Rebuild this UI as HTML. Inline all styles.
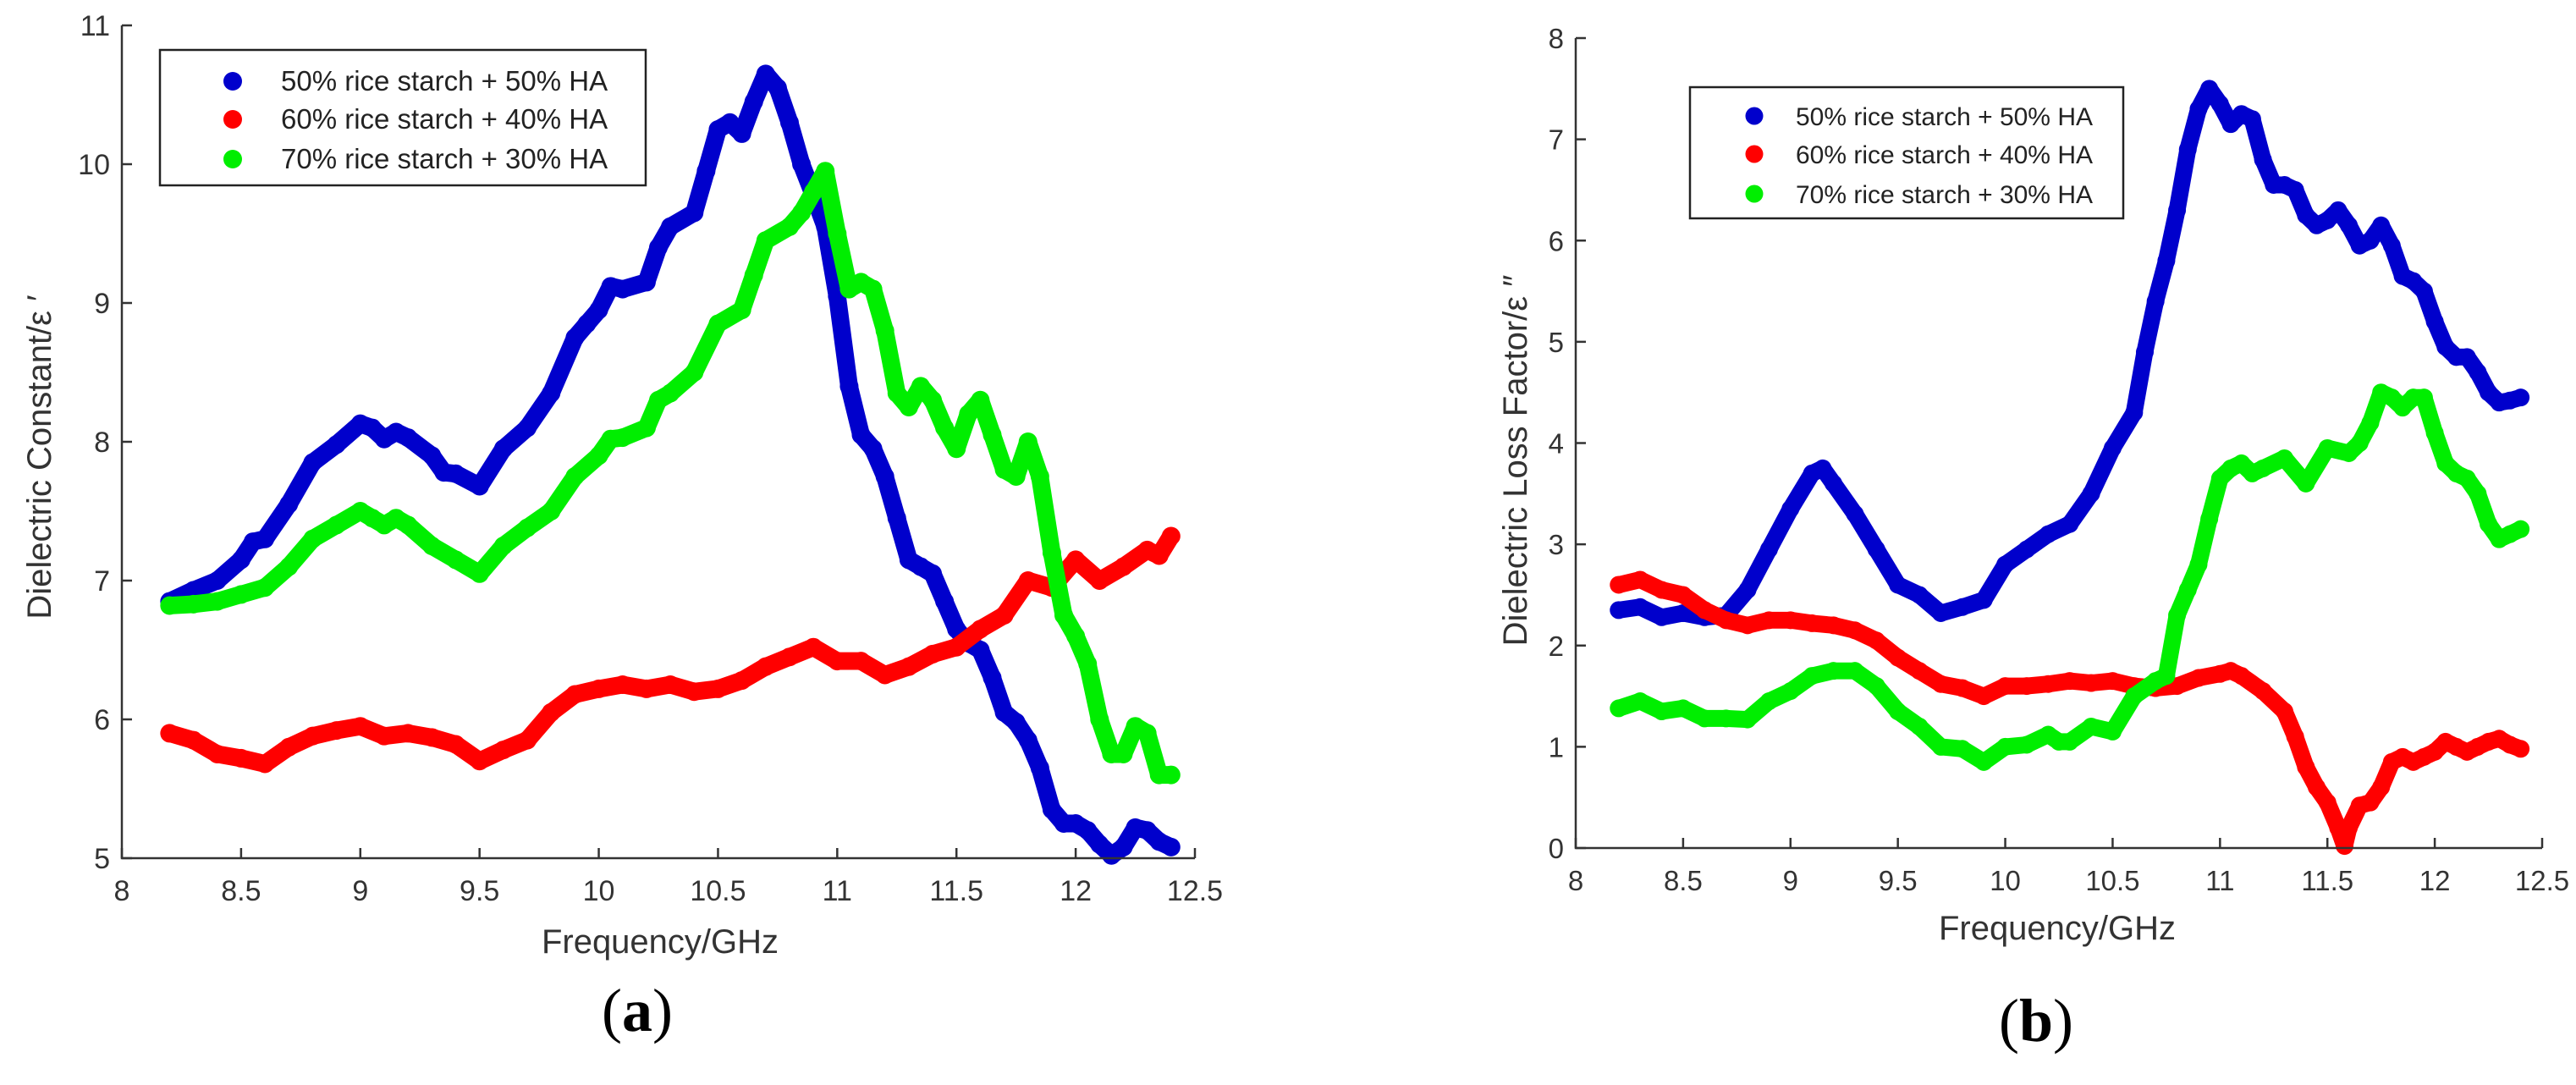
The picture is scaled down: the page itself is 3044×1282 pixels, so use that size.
<!DOCTYPE html>
<html><head><meta charset="utf-8"><style>
html,body{margin:0;padding:0;background:#fff;}
svg{display:block;font-family:"Liberation Sans",sans-serif;}
</style></head><body>
<svg id="fig" width="3044" height="1282" viewBox="0 0 3044 1282"></svg>
<script>
// ---- Data: panel (a) dielectric constant ----
const aBlueX=[8.2,8.3,8.4,8.5,8.55,8.6,8.7,8.8,8.9,9.0,9.05,9.1,9.15,9.2,9.3,9.35,9.4,9.5,9.6,9.7,9.8,9.9,9.95,10.0,10.05,10.1,10.2,10.25,10.3,10.4,10.45,10.5,10.55,10.6,10.65,10.7,10.75,10.8,10.85,10.9,10.95,11.0,11.05,11.1,11.15,11.2,11.25,11.3,11.35,11.4,11.45,11.5,11.55,11.6,11.65,11.7,11.75,11.8,11.85,11.9,11.95,12.0,12.05,12.1,12.15,12.2,12.25,12.3,12.35,12.4];
const aBlueY=[6.85,6.93,7.0,7.15,7.28,7.3,7.55,7.85,7.98,8.13,8.1,8.02,8.07,8.03,7.9,7.78,7.77,7.68,7.95,8.1,8.35,8.75,8.85,8.95,9.12,9.1,9.15,9.4,9.55,9.65,9.95,10.25,10.3,10.22,10.45,10.65,10.55,10.3,10.0,9.78,9.55,9.05,8.4,8.05,7.95,7.75,7.45,7.15,7.1,7.05,6.85,6.65,6.55,6.5,6.3,6.05,5.98,5.85,5.65,5.35,5.25,5.25,5.2,5.1,5.02,5.08,5.22,5.2,5.12,5.08];
const aRedX=[8.2,8.3,8.4,8.5,8.6,8.7,8.8,8.9,9.0,9.1,9.2,9.3,9.4,9.5,9.6,9.7,9.8,9.9,10.0,10.1,10.2,10.3,10.4,10.5,10.6,10.7,10.8,10.9,11.0,11.1,11.2,11.3,11.4,11.5,11.6,11.7,11.8,11.9,12.0,12.1,12.2,12.3,12.35,12.4];
const aRedY=[5.9,5.85,5.75,5.72,5.68,5.8,5.88,5.92,5.95,5.88,5.9,5.87,5.82,5.7,5.78,5.85,6.05,6.18,6.22,6.25,6.22,6.25,6.2,6.22,6.28,6.38,6.45,6.52,6.42,6.42,6.32,6.38,6.47,6.52,6.65,6.75,7.0,6.95,7.15,7.0,7.1,7.22,7.18,7.32];
const aGreenX=[8.2,8.3,8.4,8.5,8.6,8.7,8.8,8.9,9.0,9.05,9.1,9.15,9.2,9.3,9.4,9.5,9.6,9.7,9.8,9.9,10.0,10.05,10.1,10.2,10.25,10.3,10.4,10.5,10.6,10.65,10.7,10.8,10.85,10.9,10.95,11.0,11.05,11.1,11.15,11.2,11.25,11.3,11.35,11.4,11.45,11.5,11.55,11.6,11.65,11.7,11.75,11.8,11.85,11.9,11.95,12.0,12.05,12.1,12.15,12.2,12.25,12.3,12.35,12.4];
const aGreenY=[6.82,6.83,6.85,6.9,6.95,7.1,7.3,7.4,7.5,7.45,7.4,7.45,7.4,7.25,7.15,7.05,7.25,7.38,7.5,7.75,7.9,8.02,8.03,8.1,8.3,8.35,8.5,8.85,8.95,9.2,9.45,9.55,9.65,9.8,9.95,9.5,9.1,9.15,9.1,8.8,8.35,8.25,8.4,8.3,8.1,7.95,8.2,8.3,8.05,7.8,7.75,8.0,7.75,7.2,6.75,6.6,6.4,6.0,5.75,5.75,5.95,5.9,5.6,5.6];
// ---- Data: panel (b) dielectric loss factor ----
const bBlueX=[8.2,8.3,8.4,8.5,8.6,8.7,8.8,8.9,9.0,9.1,9.15,9.2,9.3,9.4,9.5,9.6,9.7,9.8,9.9,10.0,10.1,10.2,10.3,10.4,10.5,10.6,10.65,10.7,10.75,10.8,10.85,10.9,10.95,11.0,11.05,11.1,11.15,11.2,11.25,11.3,11.35,11.4,11.45,11.5,11.55,11.6,11.65,11.7,11.75,11.8,11.85,11.9,11.95,12.0,12.05,12.1,12.15,12.2,12.25,12.3,12.35,12.4];
const bBlueY=[2.35,2.38,2.28,2.32,2.28,2.3,2.55,2.95,3.35,3.7,3.75,3.6,3.3,2.95,2.6,2.5,2.32,2.38,2.45,2.8,2.95,3.1,3.2,3.5,3.95,4.3,4.9,5.4,5.8,6.3,6.9,7.3,7.5,7.35,7.15,7.25,7.2,6.8,6.55,6.55,6.5,6.25,6.15,6.2,6.3,6.15,5.95,6.0,6.15,5.95,5.65,5.6,5.5,5.2,4.95,4.85,4.85,4.7,4.5,4.4,4.42,4.45];
const bRedX=[8.2,8.3,8.4,8.5,8.6,8.7,8.8,8.9,9.0,9.1,9.2,9.3,9.4,9.5,9.6,9.7,9.8,9.9,10.0,10.1,10.2,10.3,10.4,10.5,10.6,10.7,10.8,10.9,11.0,11.05,11.1,11.2,11.3,11.35,11.4,11.45,11.5,11.55,11.58,11.6,11.65,11.7,11.75,11.8,11.85,11.9,11.95,12.0,12.05,12.1,12.15,12.2,12.25,12.3,12.35,12.4];
const bRedY=[2.6,2.65,2.55,2.5,2.35,2.25,2.2,2.25,2.25,2.22,2.2,2.15,2.05,1.88,1.75,1.62,1.58,1.5,1.6,1.6,1.62,1.65,1.63,1.65,1.6,1.58,1.6,1.68,1.72,1.75,1.7,1.55,1.35,1.1,0.8,0.6,0.45,0.2,0.02,0.2,0.42,0.45,0.6,0.85,0.9,0.85,0.9,0.95,1.05,1.0,0.95,1.0,1.05,1.08,1.02,0.98];
const bGreenX=[8.2,8.3,8.4,8.5,8.6,8.7,8.8,8.9,9.0,9.1,9.2,9.3,9.4,9.5,9.6,9.7,9.8,9.9,10.0,10.1,10.2,10.25,10.3,10.4,10.5,10.6,10.7,10.75,10.8,10.85,10.9,10.95,11.0,11.05,11.1,11.15,11.2,11.3,11.4,11.5,11.6,11.65,11.7,11.75,11.8,11.85,11.9,11.95,12.0,12.05,12.1,12.15,12.2,12.25,12.3,12.35,12.4];
const bGreenY=[1.38,1.45,1.35,1.38,1.28,1.28,1.27,1.45,1.55,1.7,1.75,1.75,1.6,1.35,1.2,1.0,0.98,0.85,1.0,1.02,1.12,1.05,1.05,1.2,1.15,1.5,1.65,1.7,2.3,2.55,2.8,3.25,3.65,3.75,3.8,3.7,3.75,3.85,3.6,3.95,3.9,4.0,4.2,4.5,4.45,4.35,4.45,4.45,4.1,3.8,3.7,3.65,3.5,3.2,3.05,3.1,3.15];
const xTicks=[8,8.5,9,9.5,10,10.5,11,11.5,12,12.5];
const xTickLabels=["8","8.5","9","9.5","10","10.5","11","11.5","12","12.5"];
const aYTicks=[5,6,7,8,9,10,11];
const bYTicks=[0,1,2,3,4,5,6,7,8];
const legendLabels=["50% rice starch + 50% HA","60% rice starch + 40% HA","70% rice starch + 30% HA"];
const colors=["#0000cc","#ff0000","#00ee00"];

const NS="http://www.w3.org/2000/svg";
const svg=document.getElementById('fig');
function mk(tag,attrs,parent){const e=document.createElementNS(NS,tag);for(const k in attrs)e.setAttribute(k,attrs[k]);(parent||svg).appendChild(e);return e;}

function panel(p){
  const g=mk('g',{});
  
  
  const sx=v=>p.x0+(v-8)/(12.5-8)*(p.x1-p.x0);
  const sy=v=>p.y1-(v-p.ymin)/(p.ymax-p.ymin)*(p.y1-p.y0);
  p.series.forEach((s,i)=>{
    const sg=mk('g',{},g);
    
    
    const pts=s.x.map((xv,j)=>sx(xv).toFixed(1)+','+sy(s.y[j]).toFixed(1)).join(' ');
    const pl=mk('polyline',{points:pts,fill:'none',stroke:colors[i],'stroke-width':p.r*1.9,'stroke-linejoin':'round','stroke-linecap':'round'},sg);
    
    
    s.x.forEach((xv,j)=>{
      const c=mk('circle',{cx:sx(xv),cy:sy(s.y[j]),r:p.r,fill:colors[i]},sg);
      
      
    });
  });
  const ax=mk('path',{d:`M${p.x0},${p.y0} V${p.y1} H${p.x1}`,stroke:'#333',fill:'none','stroke-width':2.5},g);
  
  
  xTicks.forEach((t,i)=>{
    mk('line',{x1:sx(t),x2:sx(t),y1:p.y1,y2:p.y1-12,stroke:'#333','stroke-width':2.5},g);
    const tx=mk('text',{x:sx(t),y:p.y1+p.tickOff,'text-anchor':'middle','font-size':p.fs,fill:'#333'},g);
    tx.textContent=xTickLabels[i];
    
    
  });
  p.yTicks.forEach(t=>{
    mk('line',{x1:p.x0,x2:p.x0+12,y1:sy(t),y2:sy(t),stroke:'#333','stroke-width':2.5},g);
    const tx=mk('text',{x:p.x0-14,y:sy(t)+12,'text-anchor':'end','font-size':p.fs,fill:'#333'},g);
    tx.textContent=String(t);
    
    
  });
  const xl=mk('text',{x:p.xlx,y:p.xly,'text-anchor':'middle','font-size':p.lfs,fill:'#333'},g);
  xl.textContent='Frequency/GHz';
  
  
  const yl=mk('text',{x:0,y:0,'text-anchor':'middle','font-size':p.lfs,fill:'#333',transform:`translate(${p.ylx},${p.yly}) rotate(-90)`},g);
  yl.textContent=p.ytitle;
  
  
  const L=p.leg;
  const lg=mk('g',{},g);
  
  
  mk('rect',{x:L.x,y:L.y,width:L.w,height:L.h,fill:'#fff',stroke:'#222','stroke-width':2.5},lg);
  legendLabels.forEach((lab,i)=>{
    const c=mk('circle',{cx:L.mx,cy:L.rows[i],r:p.r,fill:colors[i]},lg);
    
    
    const t=mk('text',{x:L.tx,y:L.rows[i]+11,'font-size':L.fs,fill:'#222'},lg);
    t.textContent=lab;
    
    
  });
  const cap=mk('text',{x:p.capx,y:p.capy,'text-anchor':'middle','font-size':72,fill:'#000','font-family':'Liberation Serif, serif'},g);
  cap.innerHTML='(<tspan font-weight="bold">'+p.cap+'</tspan>)';
  
  
}

panel({name:'chart-a',x0:144,x1:1412,y0:30,y1:1014,ymin:5,ymax:11,r:11,fs:34,lfs:40,tickOff:50,
  yTicks:aYTicks,xlx:780,xly:1126,ylx:60,yly:540,ytitle:'Dielectric Constant/ε ′',cap:'a',capx:753,capy:1218,
  leg:{x:189,y:59,w:574,h:160,mx:275,tx:332,rows:[96,141,188],fs:33},
  series:[{key:'50-rice-starch',x:aBlueX,y:aBlueY},{key:'60-rice-starch',x:aRedX,y:aRedY},{key:'70-rice-starch',x:aGreenX,y:aGreenY}]});
panel({name:'chart-b',x0:1862,x1:3004,y0:45,y1:1002,ymin:0,ymax:8,r:10.5,fs:33,lfs:40,tickOff:50,
  yTicks:bYTicks,xlx:2431,xly:1110,ylx:1804,yly:544,ytitle:'Dielectric Loss Factor/ε ″',cap:'b',capx:2406,capy:1230,
  leg:{x:1997,y:103,w:512,h:155,mx:2073,tx:2122,rows:[137,182,229],fs:30},
  series:[{key:'50-rice-starch',x:bBlueX,y:bBlueY},{key:'60-rice-starch',x:bRedX,y:bRedY},{key:'70-rice-starch',x:bGreenX,y:bGreenY}]});
</script>
</body></html>
